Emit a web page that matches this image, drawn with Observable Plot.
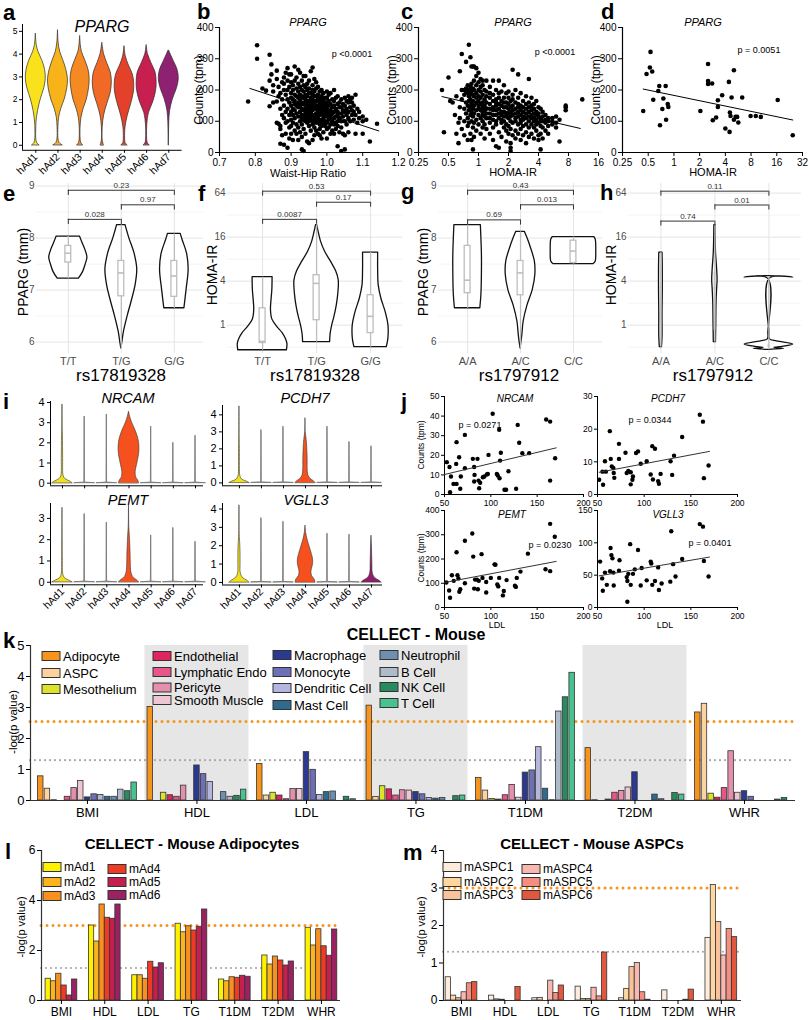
<!DOCTYPE html>
<html><head><meta charset="utf-8">
<script src="https://cdn.jsdelivr.net/npm/d3@7"></script>
<script src="https://cdn.jsdelivr.net/npm/@observablehq/plot@0.6"></script>
<style>
body{margin:0;background:#fff;}
#fig{position:relative;width:809px;height:1020px;overflow:hidden;background:#fff;}
</style></head><body><div id="fig"></div>
<script>
// ================= DATA =================
const hAd = ["hAd1","hAd2","hAd3","hAd4","hAd5","hAd6","hAd7"];
const hAdColors = ["#F9E21B","#F8B31B","#F58A22","#F06A25","#E4412B","#C71F4F","#8F2172"];
// panel a: violin profiles [value, half-width (category units)]
const ppargViolins = [
  [[0,0.16],[0.1,0.06],[0.3,0.02],[0.7,0.02],[1.0,0.03],[1.5,0.1],[2.0,0.22],[2.5,0.38],[2.9,0.45],[3.3,0.42],[3.7,0.3],[4.1,0.12],[4.4,0.04],[4.9,0]],
  [[0,0.2],[0.1,0.07],[0.3,0.02],[0.8,0.02],[1.2,0.05],[1.6,0.15],[2.0,0.3],[2.5,0.42],[2.9,0.45],[3.3,0.38],[3.7,0.25],[4.1,0.1],[4.5,0.03],[5.05,0]],
  [[0,0.13],[0.1,0.05],[0.3,0.02],[0.8,0.02],[1.2,0.06],[1.6,0.16],[2.0,0.3],[2.5,0.4],[2.9,0.43],[3.3,0.38],[3.7,0.24],[4.1,0.08],[4.4,0.03],[4.8,0]],
  [[0,0.07],[0.2,0.02],[0.8,0.02],[1.3,0.08],[1.8,0.22],[2.3,0.38],[2.8,0.43],[3.2,0.38],[3.6,0.22],[4.0,0.08],[4.5,0]],
  [[0,0.13],[0.1,0.05],[0.3,0.03],[0.8,0.05],[1.3,0.15],[1.8,0.3],[2.3,0.42],[2.7,0.44],[3.1,0.38],[3.5,0.2],[3.9,0.06],[4.35,0]],
  [[0,0.13],[0.1,0.05],[0.4,0.02],[0.9,0.03],[1.4,0.1],[1.9,0.3],[2.4,0.43],[2.8,0.45],[3.2,0.4],[3.6,0.22],[4.0,0.06],[4.4,0]],
  [[0,0.005],[0.5,0.01],[1.0,0.02],[1.5,0.06],[2.0,0.18],[2.5,0.37],[2.9,0.45],[3.3,0.4],[3.7,0.22],[4.0,0.08],[4.15,0.02]]
];
// panel b: PPARG counts vs waist-hip ratio  [whr, [tpm...]]
const whrTpm = [
[0.78,[163]],[0.805,[343,300]],[0.82,[205]],[0.83,[198]],[0.84,[313,148,230]],[0.845,[250,282]],[0.85,[215,160,195]],
[0.86,[235,163,95,262]],[0.865,[92,180,210]],[0.87,[85,75,28,140,190]],[0.875,[55,225,120,170]],[0.88,[25,220,150,110,200,240]],
[0.885,[185,130,95,60,255]],[0.89,[15,200,270,170,140,100,230]],[0.895,[120,160,210,80,45,250]],
[0.90,[250,60,190,150,130,175,105,225,85]],[0.905,[215,170,140,95,120,200,40]],[0.91,[275,185,155,110,230,70,135,165]],
[0.915,[240,205,125,150,90,180,60]],[0.92,[265,40,195,145,115,175,220,80,160]],[0.925,[255,210,130,100,185,150,65,170]],
[0.93,[10,230,180,140,120,90,200,160,50,110]],[0.935,[5,245,195,155,135,105,175,75,215]],[0.94,[245,160,125,185,100,140,60,210,115,170]],
[0.945,[220,150,130,95,180,110,200,35,165]],[0.95,[30,190,140,115,165,85,230,120,155,100,205]],[0.955,[260,175,145,105,190,70,130,160,125]],
[0.96,[272,40,150,115,200,135,90,170,185,215,100]],[0.965,[235,160,120,145,80,180,105,195,55]],[0.97,[205,140,110,165,95,125,180,150,70,225]],
[0.975,[170,130,150,100,185,115,60,210,140]],[0.98,[55,195,145,120,160,90,175,135,105,75]],[0.985,[180,125,150,100,165,200,85,140,45]],
[0.99,[190,130,110,155,95,170,145,65,120]],[0.995,[150,120,100,175,85,135,160]],[1.00,[45,195,140,115,160,95,130,75,175]],
[1.005,[185,125,105,150,80,165]],[1.01,[190,135,110,155,90,120,60]],[1.015,[145,100,170,125,70]],[1.02,[200,60,130,150,110,90,165]],
[1.025,[140,115,95,175,75]],[1.03,[20,130,155,100,120,180,85]],[1.035,[145,110,160,65]],[1.04,[5,145,125,100,170,80]],
[1.045,[155,115,135,60]],[1.05,[10,175,55,130,150,100]],[1.055,[120,165,90,140]],[1.06,[180,160,65,130,110]],[1.065,[145,100,170]],
[1.07,[175,160,120,135]],[1.075,[150,105,130]],[1.08,[185,60,120]],[1.085,[140,95]],[1.09,[110,130]],[1.10,[115,60,100]],
[1.11,[105]],[1.12,[35]],[1.14,[92]]
];
const whrFit = [[0.785,205],[1.145,69]];
// panel c: PPARG counts vs HOMA-IR [homa, [tpm...]]
const homaTpmC = [
[0.43,[200]],[0.45,[65]],[0.5,[240]],[0.52,[165]],[0.55,[160]],[0.58,[120]],[0.6,[60,180]],[0.63,[30,95]],
[0.65,[260,145,110]],[0.68,[315,200,170,75]],[0.72,[200,185,140,100,55]],[0.75,[290,205,160,125,195]],
[0.78,[190,150,110,85,40,215]],[0.8,[345,180,135,200,95,165]],[0.83,[305,210,170,120,145,60,190]],
[0.85,[40,275,195,155,130,100,220]],[0.88,[10,275,185,140,115,205,165,80]],[0.9,[275,230,180,150,125,95,200,50]],
[0.95,[270,215,160,135,190,105,245,70,175]],[1.0,[255,200,150,120,180,90,225,140,165]],
[1.05,[235,175,135,110,195,155,60,210]],[1.1,[215,160,130,100,185,145,80,230,120]],
[1.15,[200,150,115,170,90,135,45]],[1.2,[230,180,140,110,160,75,125,195]],
[1.3,[210,155,125,95,175,140,60,190,110]],[1.4,[230,165,135,105,185,145,40,120,80]],
[1.5,[200,150,120,90,170,135,20,100,160]],[1.6,[230,175,140,110,155,15,125,65,190]],
[1.7,[195,150,120,95,165,130,50,105]],[1.8,[215,160,130,100,145,80,175,115]],
[1.9,[190,145,115,90,160,125,35,70]],[2.0,[175,140,110,85,155,125,60,195]],
[2.1,[5,15,30,165,130,100,145,75,115]],[2.2,[265,185,150,120,95,135,55,170]],
[2.35,[200,160,125,100,140,70,110,45]],[2.5,[250,175,145,115,90,130,60,155]],
[2.65,[190,150,120,95,135,75,105,40]],[2.8,[165,130,105,85,145,55,115]],
[3.0,[180,140,110,90,125,65,155,30]],[3.2,[235,160,130,100,145,80,115,50]],
[3.4,[175,135,110,90,150,60,120]],[3.6,[155,125,100,80,140,45,110]],
[3.8,[165,130,105,70,90,120]],[4.0,[145,115,95,55,125,40]],[4.2,[10,140,110,85,100,60]],
[4.4,[130,100,80,115,45]],[4.7,[120,95,105,70]],[5.0,[100,85,110,60]],[5.5,[110,90,100]],
[6.0,[115,95,80]],[6.5,[105,35]],[7.5,[135,145,150]],[11,[170]]
];
const homaFitC = [[0.43,179],[10.5,77]];
// panel d
const homaTpmD = [[0.437,133],[0.478,251],[0.523,272],[0.532,322],[0.557,259],[0.573,169],[0.656,197],[0.674,213],[0.687,87],[0.732,139],[0.752,173],[0.8,213],[0.81,105],[0.846,155],[0.86,146],[2.04,133],[2.51,283],[2.51,229],[2.51,219],[2.8,221],[2.85,103],[3.12,112],[3.27,167],[3.27,146],[3.67,183],[4.0,77],[4.4,226],[4.48,66],[4.52,128],[4.6,117],[4.73,176],[5.04,263],[5.04,105],[5.27,114],[5.5,114],[5.67,96],[6.3,176],[7.9,117],[9.08,117],[10.4,114],[16.4,168],[24.6,55]];
const homaFitD = [[0.437,203],[24.6,104]];
// panels e-h
const rs178 = ["T/T","T/G","G/G"];
const rs179 = ["A/A","A/C","C/C"];
const eViolins = [
  [[7.22,0.2],[7.35,0.28],[7.5,0.33],[7.62,0.36],[7.75,0.33],[7.9,0.27],[8.03,0.22]],
  [[5.88,0.0],[6.0,0.02],[6.2,0.05],[6.5,0.12],[6.8,0.2],[7.1,0.27],[7.4,0.3],[7.7,0.25],[8.0,0.15],[8.25,0.08]],
  [[6.65,0.19],[7.0,0.23],[7.4,0.27],[7.7,0.24],[7.95,0.16],[8.08,0.12]]
];
const eBoxes = [{q1:7.53,med:7.71,q3:7.85,lo:7.22,hi:8.03},{q1:6.88,med:7.33,q3:7.56,lo:5.88,hi:8.25},{q1:6.87,med:7.27,q3:7.56,lo:6.65,hi:8.08}];
const eBrackets = [{a:1,b:2,y:8.36,p:"0.028"},{a:2,b:3,y:8.64,p:"0.97"},{a:1,b:3,y:8.92,p:"0.23"}];
const fViolins = [
  [[0.454,0.45],[0.55,0.46],[0.65,0.43],[0.78,0.37],[0.95,0.27],[1.2,0.18],[1.6,0.155],[2.2,0.165],[3.0,0.18],[4.53,0.185]],
  [[0.586,0.25],[0.76,0.26],[1.0,0.29],[1.3,0.33],[1.8,0.37],[2.6,0.4],[4.1,0.41],[5.5,0.36],[7.5,0.26],[10,0.16],[14,0.08],[20,0.03],[23.4,0.01]],
  [[0.5,0.3],[0.66,0.33],[1.0,0.33],[1.5,0.28],[2.3,0.2],[3.5,0.15],[5.5,0.14],[9.85,0.14]]
];
const fBoxes = [{q1:0.57,med:0.6,q3:1.7,lo:0.454,hi:4.53},{q1:1.17,med:3.73,q3:4.83,lo:0.586,hi:23.4},{q1:0.78,med:1.32,q3:2.57,lo:0.5,hi:9.85}];
const fBrackets = [{a:1,b:2,y:28,p:"0.0087"},{a:2,b:3,y:48,p:"0.17"},{a:1,b:3,y:68,p:"0.53"}];
const gViolins = [
  [[6.65,0.24],[6.9,0.26],[7.3,0.27],[7.7,0.27],[8.0,0.26],[8.25,0.25]],
  [[5.88,0.0],[6.1,0.03],[6.4,0.06],[6.7,0.13],[7.0,0.23],[7.3,0.28],[7.55,0.27],[7.8,0.2],[8.0,0.13],[8.12,0.08]],
  [[7.5,0.38],[7.55,0.42],[7.75,0.43],[7.97,0.42],[8.02,0.39]]
];
const gBoxes = [{q1:6.94,med:7.19,q3:7.85,lo:6.65,hi:8.25},{q1:6.9,med:7.33,q3:7.56,lo:5.88,hi:8.12},{q1:7.52,med:7.75,q3:7.95,lo:7.5,hi:8.02}];
const gBrackets = [{a:1,b:2,y:8.35,p:"0.69"},{a:2,b:3,y:8.64,p:"0.013"},{a:1,b:3,y:8.92,p:"0.43"}];
const hViolins = [
  [[0.5,0.02],[0.7,0.03],[1.5,0.03],[3,0.035],[6,0.035],[9.8,0.03]],
  [[0.586,0.02],[1,0.025],[2,0.03],[3,0.04],[4.2,0.05],[6,0.04],[10,0.02],[23.4,0.01]],
  [[0.46,0.0],[0.475,0.28],[0.49,0.1],[0.5,0.2],[0.545,0.45],[0.6,0.15],[0.64,0.02],[0.8,0.01],[4.3,0.01],[4.5,0.45],[4.7,0.01]]
];
const hBoxes = [{q1:1.52,med:3.3,q3:6.6,lo:0.5,hi:9.8},{q1:0.85,med:3.2,q3:5.3,lo:0.586,hi:23.4},{q1:0.5,med:0.52,q3:0.55,lo:0.46,hi:4.5}];
const hBrackets = [{a:1,b:2,y:26.5,p:"0.74"},{a:2,b:3,y:44,p:"0.01"},{a:1,b:3,y:68,p:"0.11"}];
// panel i
const iGenes = ["NRCAM","PCDH7","PEMT","VGLL3"];
const iMax = [[3.9,3.3,3.4,3.55,2.8,2.0,2.35],[4.5,3.1,3.3,3.8,3.3,2.4,2.15],[3.5,3.2,2.8,3.6,2.2,2.55,1.9],[4.2,3.5,3.3,3.1,2.65,2.6,2.55]];
const iShapes = [
  {0:[[0,0.45],[0.08,0.35],[0.2,0.14],[0.35,0.05],[0.6,0.03],[1.2,0.03],[1.8,0.025],[2.4,0.02],[2.9,0.008],[3.9,0.003]],
   3:[[0,0.45],[0.12,0.42],[0.3,0.32],[0.55,0.3],[0.9,0.36],[1.4,0.45],[1.8,0.47],[2.2,0.42],[2.6,0.3],[3.0,0.14],[3.3,0.05],[3.55,0.0]]},
  {0:[[0,0.45],[0.08,0.32],[0.2,0.12],[0.4,0.04],[1,0.02],[2,0.02],[2.6,0.01],[4.5,0.002]],
   3:[[0,0.45],[0.1,0.38],[0.25,0.22],[0.45,0.13],[0.8,0.1],[1.3,0.1],[1.8,0.09],[2.3,0.07],[2.7,0.04],[3.0,0.01],[3.8,0.002]]},
  {0:[[0,0.45],[0.08,0.3],[0.2,0.1],[0.4,0.03],[1,0.015],[2,0.01],[3.5,0.002]],
   3:[[0,0.45],[0.1,0.35],[0.25,0.18],[0.5,0.1],[0.9,0.08],[1.4,0.07],[1.9,0.05],[2.3,0.03],[2.7,0.01],[3.6,0.002]]},
  {0:[[0,0.45],[0.1,0.35],[0.25,0.15],[0.5,0.06],[1,0.05],[1.5,0.05],[2,0.04],[2.4,0.02],[2.8,0.008],[4.2,0.002]],
   3:[[0,0.45],[0.15,0.42],[0.35,0.3],[0.6,0.27],[0.9,0.33],[1.2,0.35],[1.5,0.3],[1.9,0.2],[2.3,0.1],[2.7,0.03],[3.1,0.0]],
   6:[[0,0.45],[0.1,0.35],[0.25,0.15],[0.5,0.06],[1,0.04],[1.5,0.03],[2,0.02],[2.55,0.0]]}
];
const iColors = {0:"#F2E01C",3:"#F4511E",6:"#8E1E6C"};
// panel j: [LDL, counts]
const jNRCAM = [[52.5,16.5],[55.4,14],[56,1.2],[57,9.2],[59.7,5.4],[63,5.4],[62.6,15.6],[63,26.7],[65.8,19],[67,2.9],[67.6,9.2],[72,30.4],[72,13.4],[80.6,18.2],[82,14],[82,6.6],[82.4,10],[85.6,18.2],[86.7,7.1],[87.4,3.2],[88.5,6],[91.4,8.8],[93,9.2],[95.7,10.2],[96.8,10.5],[97.5,20.2],[102,41.2],[106.5,10.5],[107.5,9.7],[109,33],[109.4,8.3],[110,17.3],[110.8,21.3],[114.7,2.4],[116.5,2.4],[119,11.9],[127.3,2.9],[129,35.5],[130.6,26.4],[134,21.1],[141.4,21.1],[159.7,38.3],[164,37.2],[164,7.1],[169.4,18.5]];
const jPCDH7 = [[51.8,4.5],[56,3],[55.3,7],[59,7],[58,10.2],[63.2,19.4],[64.2,10.9],[65.3,8.6],[67,8.1],[67.4,6.6],[68,5.1],[73,15.5],[73,10.9],[80,12.8],[81.3,6.6],[83,7.2],[85.6,6.8],[85.6,3.1],[87.4,4.5],[88,5.5],[91.3,12.7],[93.4,13.2],[96.3,9.4],[102.7,10.2],[107,6.1],[108.7,14.8],[111.6,14],[109.4,4.6],[115,4.1],[115.8,3.3],[117.6,6.3],[128.3,10.2],[130,6],[132,11.9],[140.7,17.6],[159.6,24.4],[163,22.3],[164,5],[169,8.9]];
const jPEMT = [[52,103],[55,70],[56,40],[58,133],[60,110],[63,228],[64,133],[65,120],[66,65],[67,75],[72,275],[72,100],[80,305],[81,210],[82,78],[83,115],[85,115],[86,75],[87,110],[90,220],[91,122],[95,62],[95,105],[100,122],[104,178],[105,176],[107,95],[108,87],[109,122],[113,50],[114,68],[117,113],[126,90],[127,85],[128,122],[132,148],[140,222],[159,158],[164,345],[164,150],[169,292]];
const jVGLL3 = [[52.8,71],[55,45],[55.7,26],[58,54],[60,35],[63.5,56],[64,92],[64.9,81],[66,76],[67,54],[67.4,34],[73,57],[73.6,73],[81.3,47],[82,41],[82,9],[83,52],[85,98],[85.6,35],[88,52],[90,59],[93.4,89],[96.3,34],[97.3,61],[102.7,42],[107,71],[107.6,68],[108.7,35],[111.6,41],[115,62],[115.8,27],[118.7,37],[128,40],[129,118],[131,67],[133.6,48],[140.7,75],[159.6,129],[163,125],[164,72],[169,48]];
const jFits = [[[50,10.2],[170.5,23.8]],[[51.8,6.8],[170,13.2]],[[50,103],[170.5,190]],[[51.8,49],[170,78]]];
const jP = ["p = 0.0271","p = 0.0344","p = 0.0230","p = 0.0401"];
// panel k
const traits = ["BMI","HDL","LDL","TG","T1DM","T2DM","WHR"];
const cellTypes = ["Adipocyte","ASPC","Mesothelium","Endothelial","Lymphatic Endo","Pericyte","Smooth Muscle","Macrophage","Monocyte","Dendritic Cell","Mast Cell","Neutrophil","B Cell","NK Cell","T Cell"];
const cellColors = ["#F7941D","#FDD29E","#DDE32B","#E0245E","#E8558A","#E68FAC","#EDC6D3","#2B3990","#6D70B5","#B4B6E0","#2E6B8C","#6F8FAF","#ADBBCB","#2A8A5F","#48C28E"];
const kVals = [
  [0.78,0.38,0.01,0.0,0.12,0.4,0.63,0.1,0.2,0.18,0.12,0.12,0.35,0.3,0.58],
  [3.02,0.0,0.25,0.17,0.12,0.48,0.0,1.13,0.85,0.6,0.0,0.27,0.12,0.15,0.35],
  [1.18,0.16,0.25,0.16,0.04,0.37,0.37,1.56,0.99,0.18,0.27,0.29,0.0,0.12,0.04],
  [3.06,0.11,0.46,0.36,0.16,0.33,0.32,0.27,0.2,0.08,0.06,0.08,0.0,0.14,0.16],
  [0.73,0.32,0.05,0.03,0.17,0.5,0.09,0.9,0.97,1.72,0.38,0.01,2.87,3.33,4.12],
  [1.69,0.01,0.0,0.03,0.25,0.31,0.42,0.91,0.0,0.0,0.19,0.04,0.0,0.24,0.19],
  [2.84,3.12,0.22,0.09,0.4,1.59,0.25,0.3,0.12,0.0,0.0,0.0,0.03,0.08,0.0]
];
// panel l
const mAdNames = ["mAd1","mAd2","mAd3","mAd4","mAd5","mAd6"];
const mAdColors = ["#FFF200","#FCB41C","#F7901E","#EE3B24","#C41F4F","#9C2163"];
const lVals = [[0.87,0.77,1.07,0.6,0.2,0.84],[3.0,2.36,3.84,3.31,3.27,3.84],[1.01,1.01,0.87,1.55,1.32,1.49],[3.07,2.73,2.97,2.8,2.95,3.64],[0.84,0.77,0.93,0.91,0.99,0.95],[1.8,1.44,1.76,1.6,1.4,1.56],[2.91,2.2,2.85,2.17,1.79,2.84]];
// panel m
const mAspcNames = ["mASPC1","mASPC2","mASPC3","mASPC4","mASPC5","mASPC6"];
const mAspcColors = ["#FDEBDC","#FDD6A0","#F9C29A","#F8B7B0","#F58E80","#E2583E"];
const mVals = [[0.62,0.13,0.06,0.22,0.46,0.49],[0.13,0.03,0.02,0,0,0.36],[0.06,0.07,0,0.53,0.2,0.4],[0.37,0.04,0.04,0.34,0.11,1.28],[0.06,0.31,0.89,1.0,0.22,0.02],[0.27,0,0,0,0.02,0.29],[1.67,3.08,2.09,1.2,1.91,1.69]];

// ================= HELPERS =================
const FONT = '"Liberation Sans", Arial, Helvetica, sans-serif';
const fig = document.getElementById("fig");
function plotAt(box, m, opts) {
  const [mt, mr, mb, ml] = m;
  const width = box[1]-box[0]+ml+mr, height = box[3]-box[2]+mt+mb;
  const fs = opts.fs || 10; delete opts.fs;
  const svg = Plot.plot({width, height, marginTop: mt, marginRight: mr, marginBottom: mb, marginLeft: ml,
    style: {fontFamily: FONT, fontSize: fs+"px", background: "transparent", overflow: "visible", color:"#000"}, ...opts});
  svg.style.position = "absolute"; svg.style.left = (box[0]-ml)+"px"; svg.style.top = (box[2]-mt)+"px";
  svg.style.maxWidth = "none";
  fig.appendChild(svg);
}
const flat = g => g.flatMap(([x, ys]) => ys.map(y => [x, y]));
function vRows(profiles, extra) {
  const rows = [];
  profiles.forEach((p, i) => p.forEach(([y, w]) => rows.push({c: i+1, y, x1: i+1-w, x2: i+1+w, ...(extra ? extra(i) : {})})));
  return rows;
}
const AX = o => Plot.axisX({label: null, tickSize: 4, tickPadding: 2, tickFormat: d => String(d), ...o});
const AY = o => Plot.axisY({label: null, tickSize: 4, tickPadding: 2, tickFormat: d => String(d), ...o});

// ================= PANEL a =================
plotAt([21.7,181.3,24.2,150], [10,10,40,25], {
  fs: 8,
  x: {domain: [0.4,7.6], axis: null}, y: {domain: [-0.22,5.3], axis: null}, color: {type: "identity"},
  marks: [
    Plot.areaX(vRows(ppargViolins, i => ({fill: hAdColors[i]})), {y: "y", x1: "x1", x2: "x2", z: "c", fill: "fill", stroke: "#2b2b2b", strokeWidth: 0.7, curve: "catmull-rom"}),
    Plot.ruleX([0.4], {stroke: "#000", strokeWidth: 1}),
    Plot.ruleY([-0.22], {stroke: "#000", strokeWidth: 1}),
    AY({ticks: [0,1,2,3,4,5], tickSize: 3, fontSize: 8.5}),
    AX({ticks: [1,2,3,4,5,6,7], tickFormat: i => hAd[i-1], tickRotate: -45, tickSize: 3, fontSize: 10.5})
  ]
});

// ================= PANELS b, c, d =================
function scatter(box, xOpt, xTicks, xFmt, pts, fit) {
  plotAt(box, [10,10,30,30], {
    x: {...xOpt, axis: null}, y: {domain: [0,400], axis: null},
    marks: [
      Plot.ruleX([xOpt.domain[0]], {stroke: "#000", strokeWidth: 1.2}),
      Plot.ruleY([0], {stroke: "#000", strokeWidth: 1.2}),
      Plot.dot(pts, {x: d => d[0], y: d => d[1], r: 2.3, fill: "#000"}),
      Plot.line(fit, {x: d => d[0], y: d => d[1], stroke: "#000", strokeWidth: 1}),
      AY({ticks: [0,100,200,300,400], tickSize: 4, fontSize: 10}),
      AX({ticks: xTicks, tickFormat: xFmt, tickSize: 4, fontSize: 10})
    ]
  });
}
scatter([219,398,27,152], {domain: [0.7,1.2]}, [0.7,0.8,0.9,1.0,1.1,1.2], d3.format(".1f"), flat(whrTpm), whrFit);
scatter([418,598,27,152], {type: "log", base: 2, domain: [0.25,16]}, [0.25,0.5,1,2,4,8,16], d => String(d), flat(homaTpmC), homaFitC);
scatter([622,802,27,152], {type: "log", base: 2, domain: [0.25,32]}, [0.25,0.5,1,2,4,8,16,32], d => String(d), homaTpmD, homaFitD);

// ================= PANELS e, f, g, h =================
function snp(box, xDom, yOpt, major, minor, cats, prof, boxes, br, isLog, bw, boxFill) {
  const tk = isLog ? (d => d.y / 1.17) : (d => d.y - 0.1);
  const ends = br.flatMap(d => [{x: d.a, y: d.y}, {x: d.b, y: d.y}]);
  const bx = boxes.map((d, i) => ({...d, c: i+1}));
  plotAt(box, [20,10,30,30], {
    x: {domain: xDom, axis: null}, y: {...yOpt, axis: null},
    marks: [
      Plot.ruleY(minor, {stroke: "#F1F1F1", strokeWidth: 0.8}),
      Plot.ruleY(major, {stroke: "#E4E4E4", strokeWidth: 1}),
      Plot.ruleX([1,2,3], {stroke: "#E4E4E4", strokeWidth: 1}),
      Plot.areaX(vRows(prof), {y: "y", x1: "x1", x2: "x2", z: "c", fill: "white", stroke: "#111", strokeWidth: 1.3, curve: "catmull-rom"}),
      Plot.ruleX(bx, {x: "c", y1: "lo", y2: "hi", stroke: "#BDBDBD", strokeWidth: 1.3}),
      Plot.rect(bx, {x1: d => d.c - bw, x2: d => d.c + bw, y1: "q1", y2: "q3", fill: boxFill, stroke: boxFill === "white" ? "#BDBDBD" : "none", strokeWidth: 1.3}),
      Plot.ruleY(bx, {x1: d => d.c - bw, x2: d => d.c + bw, y: "med", stroke: "#BDBDBD", strokeWidth: 1.6}),
      Plot.ruleY(br, {x1: "a", x2: "b", y: "y", stroke: "#333", strokeWidth: 1}),
      Plot.ruleX(ends, {x: "x", y1: tk, y2: "y", stroke: "#333", strokeWidth: 1}),
      Plot.text(br, {x: d => (d.a + d.b)/2, y: "y", text: "p", dy: -5, fontSize: 8, fill: "#333"}),
      AY({ticks: major.filter(v => v >= yOpt.domain[0] && v <= yOpt.domain[1]), tickSize: 0, tickPadding: 2, fontSize: 10, color: "#4D4D4D"}),
      AX({ticks: [1,2,3], tickFormat: i => cats[i-1], tickSize: 0, tickPadding: 4, fontSize: 11, color: "#4D4D4D"})
    ]
  });
}
const linY = {domain: [5.78,9.05]}, logY = {type: "log", base: 2, domain: [0.41,86.6]};
snp([36,203,183.4,353.4], [0.4,3.55], linY, [6,7,8,9], [6.5,7.5,8.5], rs178, eViolins, eBoxes, eBrackets, false, 0.055, "white");
snp([226.9,402.4,183.4,353.4], [0.35,3.6], logY, [1,4,16,64], [0.5,2,8,32], rs178, fViolins, fBoxes, fBrackets, true, 0.055, "white");
snp([437.9,602,183.4,353.4], [0.45,3.55], linY, [6,7,8,9], [6.5,7.5,8.5], rs179, gViolins, gBoxes, gBrackets, false, 0.055, "white");
snp([627.6,800.4,183.4,353.4], [0.4,3.6], logY, [1,4,16,64], [0.5,2,8,32], rs179, hViolins, hBoxes, hBrackets, true, 0.014, "#C4C4C4");

// ================= PANEL i =================
function iPanel(box, xDom, yDom, yTicks, g, showX) {
  const thin = [], thick = [];
  iMax[g].forEach((mx, i) => {
    const c = i + 1, shp = iShapes[g][i];
    if (shp) shp.forEach(([y, w]) => thick.push({c, y, x1: c-w, x2: c+w, fill: iColors[i]}));
    else [[0,0.45],[0.03,0.012],[mx,0.004]].forEach(([y, w]) => thin.push({c, y, x1: c-w, x2: c+w}));
  });
  plotAt(box, [10,10,40,25], {
    x: {domain: xDom, axis: null}, y: {domain: yDom, axis: null}, color: {type: "identity"},
    marks: [
      Plot.areaX(thin, {y: "y", x1: "x1", x2: "x2", z: "c", fill: "#999", stroke: "#7a7a7a", strokeWidth: 0.9}),
      Plot.areaX(thick, {y: "y", x1: "x1", x2: "x2", z: "c", fill: "fill", stroke: "#333", strokeWidth: 0.6, curve: "catmull-rom"}),
      Plot.ruleX([xDom[0]], {stroke: "#000", strokeWidth: 1}),
      Plot.ruleY([yDom[0]], {stroke: "#000", strokeWidth: 1}),
      AY({ticks: yTicks, tickSize: 3, tickPadding: 3, fontSize: 11}),
      AX({ticks: [1,2,3,4,5,6,7], tickFormat: showX ? (i => hAd[i-1]) : (() => ""), tickRotate: showX ? -45 : 0, tickSize: 3, fontSize: 10.5})
    ]
  });
}
iPanel([50,203,400.7,485], [0.46,7.36], [-0.13,4.05], [0,1,2,3,4], 0, false);
iPanel([222,382,404.9,485.2], [0.23,7.5], [-0.17,4.55], [0,1,2,3,4], 1, false);
iPanel([50,203,502.9,584.2], [0.46,7.36], [-0.12,3.7], [0,1,2,3], 2, true);
iPanel([222,382,502.8,584.3], [0.23,7.5], [-0.14,4.3], [0,1,2,3,4], 3, true);

// ================= PANEL j =================
function jPanel(box, yDom, yTicks, pts, fit) {
  plotAt(box, [10,10,20,25], {
    x: {domain: [50,200], axis: null}, y: {domain: yDom, axis: null},
    marks: [
      Plot.ruleX([50], {stroke: "#000", strokeWidth: 1}),
      Plot.ruleY([yDom[0]], {stroke: "#000", strokeWidth: 1}),
      Plot.dot(pts, {x: d => d[0], y: d => d[1], r: 2.2, fill: "#000"}),
      Plot.line(fit, {x: d => d[0], y: d => d[1], stroke: "#333", strokeWidth: 1}),
      AY({ticks: yTicks, tickSize: 3, fontSize: 8.5}),
      AX({ticks: [50,100,150,200], tickSize: 3, fontSize: 8.5})
    ]
  });
}
jPanel([444,583,396,494], [0,50], [0,10,20,30,40,50], jNRCAM, jFits[0]);
jPanel([597,737,396,494], [0,30], [0,10,20,30], jPCDH7, jFits[1]);
jPanel([444,583,510,607], [0,400], [0,100,200,300,400], jPEMT, jFits[2]);
jPanel([597,737,510,607], [0,150], [0,50,100,150], jVGLL3, jFits[3]);

// ================= PANELS k, l, m (bars) =================
function bars(box, xDom, yDom, yTicks, vals, colors, step, bw, orange, shade, fsz) {
  const n = colors.length, mid = (n - 1) / 2;
  const rows = [];
  vals.forEach((vs, t) => vs.forEach((v, k) => rows.push({x1: t + (k-mid)*step - bw/2, x2: t + (k-mid)*step + bw/2, y1: 0, y2: v, fill: colors[k]})));
  plotAt(box, [10,10,30,30], {
    fs: 12,
    x: {domain: xDom, axis: null}, y: {domain: yDom, axis: null}, color: {type: "identity"},
    marks: [
      Plot.rect(shade, {x1: d => d - 0.475, x2: d => d + 0.475, y1: yDom[0], y2: yDom[1], fill: "#E6E6E6"}),
      Plot.ruleY([orange], {stroke: "#F7941D", strokeWidth: 3, strokeDasharray: "0,6", strokeLinecap: "round"}),
      Plot.ruleY([1.3], {stroke: "#A8A8A8", strokeWidth: 2.2, strokeDasharray: "0,5", strokeLinecap: "round"}),
      Plot.rect(rows, {x1: "x1", x2: "x2", y1: "y1", y2: "y2", fill: "fill", stroke: "#333", strokeWidth: 0.8}),
      Plot.ruleX([xDom[0]], {stroke: "#333", strokeWidth: 1.2}),
      Plot.ruleY([0], {stroke: "#333", strokeWidth: 1.2}),
      AY({ticks: yTicks, tickSize: 4, fontSize: fsz}),
      AX({ticks: [0,1,2,3,4,5,6], tickFormat: i => traits[i], tickSize: 4, tickPadding: 3, fontSize: fsz})
    ]
  });
}
bars([30,795,645,800], [-0.52,6.466], [0,5], [0,1,2,3,4,5], kVals, cellColors, 0.0609, 0.05, 2.55, [1,3,5], 13);
bars([41,340,850,1000], [-0.46,6.44], [0,6], [0,2,4,6], lVals, mAdColors, 0.122, 0.122, 3.0, [], 12);
bars([443,741,850,1000], [-0.416,6.466], [0,4], [0,1,2,3,4], mVals, mAspcColors, 0.122, 0.122, 3.0, [], 12);

// ================= TEXT OVERLAY =================
const ov = d3.select(fig).append("svg").attr("width", 809).attr("height", 1020)
  .style("position", "absolute").style("left", "0px").style("top", "0px").style("pointer-events", "none")
  .style("font-family", FONT);
function T(s, x, y, o = {}) {
  const t = ov.append("text").text(s).attr("font-size", o.size || 12).attr("text-anchor", o.anchor || "start").attr("fill", o.fill || "#000");
  if (o.bold) t.attr("font-weight", "bold");
  if (o.italic) t.attr("font-style", "italic");
  if (o.rotate) t.attr("transform", `translate(${x},${y}) rotate(${o.rotate})`); else t.attr("x", x).attr("y", y);
  return t;
}
const YL = (s, cx, cy, size) => T(s, cx + 0.36*size, cy, {size, anchor: "middle", rotate: -90});
// letters
[["a",3,20],["b",197,19],["c",401,19],["d",601,19],["e",3,201],["f",198,201],["g",401,199],["h",600,200],["i",3,409],["j",401,409],["k",3,648],["l",5,859],["m",403,860]]
  .forEach(([s,x,y]) => T(s, x, y, {size: 22, bold: true}));
// a
T("PPARG", 102, 32, {size: 16, italic: true, anchor: "middle"});
// b,c,d
T("PPARG", 308, 26, {size: 11, italic: true, anchor: "middle"});
T("PPARG", 513, 26, {size: 11, italic: true, anchor: "middle"});
T("PPARG", 703, 26, {size: 11, italic: true, anchor: "middle"});
T("p <0.0001", 352, 57, {size: 9, anchor: "middle"});
T("p <0.0001", 555, 55, {size: 9, anchor: "middle"});
T("p = 0.0051", 759, 53, {size: 9, anchor: "middle"});
T("Waist-Hip Ratio", 308, 177, {size: 11, anchor: "middle"});
T("HOMA-IR", 513, 176, {size: 11, anchor: "middle"});
T("HOMA-IR", 713, 176, {size: 11, anchor: "middle"});
YL("Counts (tpm)", 199, 90, 12); YL("Counts (tpm)", 392, 90, 12); YL("Counts (tpm)", 596, 90, 12);
// e-h
T("rs17819328", 121, 381, {size: 17, anchor: "middle"});
T("rs17819328", 315, 381, {size: 17, anchor: "middle"});
T("rs1797912", 519, 381, {size: 17, anchor: "middle"});
T("rs1797912", 713, 381, {size: 17, anchor: "middle"});
YL("PPARG (tmm)", 23, 272, 14); YL("HOMA-IR", 212, 275, 14); YL("PPARG (tmm)", 423, 272, 14); YL("HOMA-IR", 611, 275, 14);
// i
T("NRCAM", 128, 403, {size: 14.5, italic: true, anchor: "middle"});
T("PCDH7", 305, 403, {size: 14.5, italic: true, anchor: "middle"});
T("PEMT", 128, 505, {size: 14.5, italic: true, anchor: "middle"});
T("VGLL3", 306, 505, {size: 14.5, italic: true, anchor: "middle"});
// j
T("NRCAM", 515, 402, {size: 10, italic: true, anchor: "middle"});
T("PCDH7", 668, 402, {size: 10, italic: true, anchor: "middle"});
T("PEMT", 512, 518, {size: 10, italic: true, anchor: "middle"});
T("VGLL3", 668, 518, {size: 10, italic: true, anchor: "middle"});
T(jP[0], 480, 428, {size: 9, anchor: "middle"});
T(jP[1], 650, 423, {size: 9, anchor: "middle"});
T(jP[2], 550, 548, {size: 9, anchor: "middle"});
T(jP[3], 710, 546, {size: 9, anchor: "middle"});
T("LDL", 497, 628, {size: 9, anchor: "middle"});
T("LDL", 665, 628, {size: 9, anchor: "middle"});
YL("Counts (tpm)", 421, 445, 8.5); YL("Counts (tpm)", 421, 558, 8.5);
// k
T("CELLECT - Mouse", 416, 640, {size: 16, bold: true, anchor: "middle"});
YL("-log(p value)", 13, 722, 11.5);
function legend(names, colors, cols, bw, bh, size) {
  cols.forEach(([x, start, rows]) => rows.forEach((cy, r) => {
    const k = start + r;
    ov.append("rect").attr("x", x).attr("y", cy - bh/2).attr("width", bw).attr("height", bh).attr("fill", colors[k]).attr("stroke", "#333").attr("stroke-width", 1);
    T(names[k], x + bw + 3, cy + 0.36*size, {size});
  }));
}
legend(cellTypes, cellColors, [[42,0,[656,673,689]],[153,3,[656,672,687.5,700]],[273,7,[655,672,688,705]],[380,11,[655,672,687,703]]], 18, 9, 13);
// l, m
T("CELLECT - Mouse Adipocytes", 192, 849, {size: 15, bold: true, anchor: "middle"});
T("CELLECT - Mouse ASPCs", 592, 849, {size: 15, bold: true, anchor: "middle"});
YL("-log(p value)", 21, 927, 11); YL("-log(p value)", 421, 927, 11);
legend(mAdNames, mAdColors, [[43,0,[867,882,896]],[108,3,[869,882,895]]], 18, 9, 12);
legend(mAspcNames, mAspcColors, [[443,0,[867,882,895]],[522,3,[869,882,895]]], 18, 9, 12);
</script></body></html>
